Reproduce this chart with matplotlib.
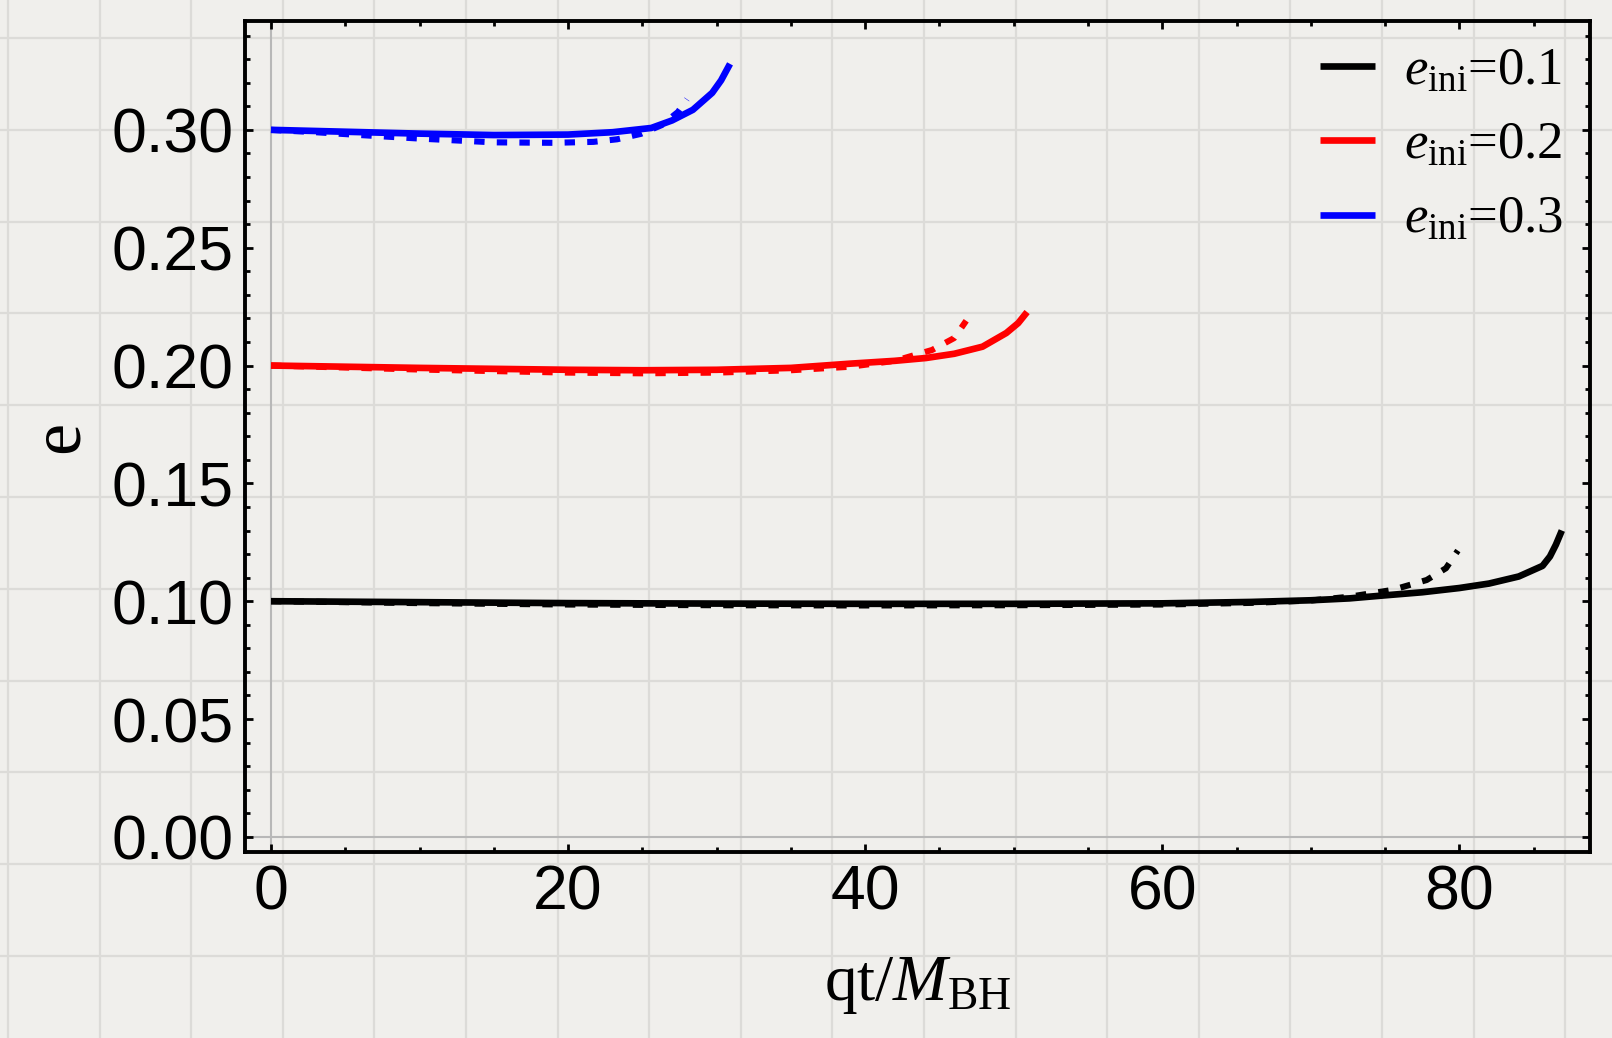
import numpy as np
import matplotlib.pyplot as plt

plt.rcParams['mathtext.fontset'] = 'custom'
plt.rcParams['mathtext.rm'] = 'Liberation Serif'
plt.rcParams['mathtext.it'] = 'Liberation Serif:italic'

# eccentricity curves: solid = full evolution, dashed = approximation
x_black = [0, 10, 20, 30, 40, 50, 60, 66, 70, 72.6, 75, 77.5, 80, 82, 84, 85.6, 86.1, 86.5, 86.9]
e_black = [0.1000, 0.0996, 0.0992, 0.0990, 0.0989, 0.0989, 0.0991, 0.0997, 0.1004, 0.1012,
           0.1025, 0.1038, 0.1056, 0.1075, 0.1105, 0.1150, 0.1190, 0.1240, 0.1300]
x_black_d = [0, 10, 20, 30, 40, 50, 60, 66, 70, 72.6, 75.5, 77.8, 79.1, 79.9]
e_black_d = [0.1000, 0.0992, 0.0986, 0.0983, 0.0982, 0.0983, 0.0986, 0.0993, 0.1003, 0.1019,
             0.1048, 0.1090, 0.1140, 0.1215]

x_red = [0, 10, 20, 25, 30, 35, 39, 42, 44.1, 46, 47.9, 49.5, 50.3, 50.9]
e_red = [0.2000, 0.1990, 0.1982, 0.1980, 0.1982, 0.1990, 0.2008, 0.2020, 0.2032, 0.2050,
         0.2080, 0.2138, 0.2180, 0.2227]
x_red_d = [0, 10, 20, 25, 30, 35, 39, 42, 44.5, 46, 46.8]
e_red_d = [0.2000, 0.1983, 0.1970, 0.1967, 0.1970, 0.1980, 0.1995, 0.2020, 0.2066, 0.2117, 0.2190]

x_blue = [0, 5, 10, 15, 20, 23, 25.6, 27, 28.4, 29.7, 30.3, 30.9]
e_blue = [0.3000, 0.2992, 0.2984, 0.2978, 0.2980, 0.2990, 0.3008, 0.3040, 0.3085, 0.3157, 0.3210, 0.3280]
x_blue_d = [0, 3, 6, 10, 15, 19, 21.7, 23.3, 24.9, 26.3, 27.4, 28.0]
e_blue_d = [0.3000, 0.2990, 0.2978, 0.2963, 0.2947, 0.2945, 0.2949, 0.2960, 0.2983, 0.3020, 0.3076, 0.3130]

labels = [r'$e_{\rm ini}$=0.1', r'$e_{\rm ini}$=0.2', r'$e_{\rm ini}$=0.3']
colors = ['black', 'red', 'blue']

fig = plt.figure(figsize=(16.12, 10.38), dpi=100)
fig.patch.set_facecolor('#f0efec')

# graph paper background
bg = fig.add_axes([0, 0, 1, 1], zorder=-1)
bg.set_xlim(0, 1612)
bg.set_ylim(1038, 0)
bg.axis('off')
for gx in np.arange(8, 1612, 91.6):
    bg.axvline(gx, color='#dcdbd8', lw=1.6)
for gy in np.arange(38, 1038, 91.8):
    bg.axhline(gy, color='#dcdbd8', lw=1.6)

ax = fig.add_axes([0.152, 0.1792, 0.8344, 0.8006])
ax.set_facecolor('none')

ax.axhline(0, color='#b8b8b8', lw=1.5, zorder=1)
ax.axvline(0, color='#b8b8b8', lw=1.5, zorder=1)

curves = [(x_black, e_black, x_black_d, e_black_d),
          (x_red, e_red, x_red_d, e_red_d),
          (x_blue, e_blue, x_blue_d, e_blue_d)]
for (xs, es, xd, ed), c, lab in zip(curves, colors, labels):
    ax.plot(xs, es, color=c, lw=4.8, label=lab, solid_capstyle='butt',
            solid_joinstyle='round', zorder=3)
    ax.plot(xd, ed, color=c, lw=4.4, ls=(0, (1.7, 2.0)), dash_capstyle='butt', zorder=4)

ax.set_xlim(-1.75, 88.8)
ax.set_ylim(-0.0064, 0.3462)
ax.set_xticks([0, 20, 40, 60, 80])
ax.set_xticks(np.arange(0, 90, 5), minor=True)
ax.set_yticks(np.arange(0, 0.31, 0.05))
ax.set_yticks(np.arange(0, 0.345, 0.01), minor=True)
ax.set_yticklabels(['0.00', '0.05', '0.10', '0.15', '0.20', '0.25', '0.30'])

ax.tick_params(which='both', direction='in', top=True, right=True, width=2,
               labelsize=45, colors='black')
ax.tick_params(which='major', length=6, pad=8)
ax.tick_params(which='minor', length=3.5)
for lab in ax.get_xticklabels() + ax.get_yticklabels():
    lab.set_fontfamily('Liberation Sans')
for s in ax.spines.values():
    s.set_linewidth(2.8)

ax.set_xlabel(r'qt/$M_{\rm BH}$', fontsize=47, family='Liberation Serif', labelpad=24)
ax.set_ylabel('e', fontsize=52, family='Liberation Serif', labelpad=14)

ax.legend(loc='upper right', frameon=False, prop={'family': 'Liberation Serif', 'size': 38},
          handlelength=1.05, handletextpad=0.55, labelspacing=0.5, borderaxespad=0.1)

fig.savefig('out.png', dpi=100, facecolor=fig.get_facecolor())
